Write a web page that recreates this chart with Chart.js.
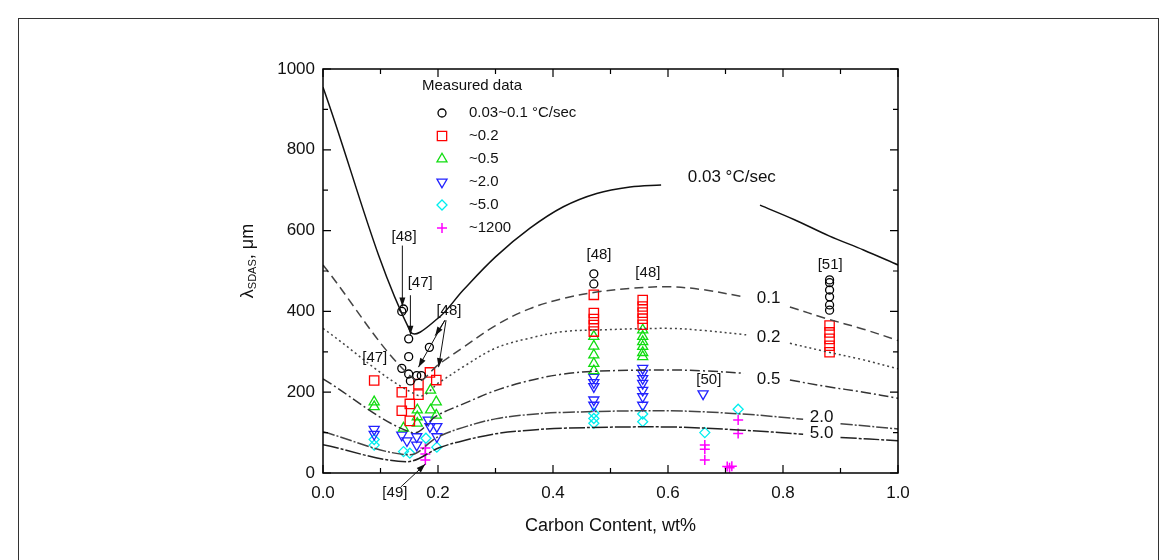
<!DOCTYPE html>
<html>
<head>
<meta charset="utf-8">
<script src="https://cdn.jsdelivr.net/npm/chart.js@4.4.0/dist/chart.umd.min.js"></script>
<style>
  html, body { margin: 0; padding: 0; background: #fff; overflow: hidden; }
  #wrap { position: relative; width: 1176px; height: 560px; overflow: hidden; }
  #frame { position: absolute; left: 18px; top: 18px; width: 1141px; height: 600px; border: 1px solid #333; box-sizing: border-box; }
  canvas { position: absolute; left: 0; top: 0; }
</style>
</head>
<body>
<div id="wrap">
  <div id="frame"></div>
  <canvas id="myChart" width="1176" height="560"></canvas>
</div>
<script>
// model curves, lambda_SDAS (um) vs carbon (wt%); null leaves the gap for the curve label
const curve003X = [0, 0.152, 0.2, 0.244, 0.3, 0.36, 0.418, 0.476, 0.534, 0.588, 0.67, 0.76, 0.82, 0.88, 0.94, 1.0];
const curve003Y = [955, 350, 383, 453, 535, 606, 659, 692, 708, 713, null, 663, 627, 587, 552, 515];
const curve01X = [0, 0.16, 0.203, 0.244, 0.3, 0.36, 0.418, 0.476, 0.534, 0.6, 0.66, 0.732, 0.77, 0.812, 0.876, 0.94, 1.0];
const curve01Y = [515, 230, 271, 311, 365, 407, 432, 448, 457, 461, 454, 436, null, 411, 382, 356, 328];
const curve02X = [0, 0.165, 0.203, 0.244, 0.3, 0.36, 0.418, 0.476, 0.6, 0.66, 0.736, 0.77, 0.812, 0.876, 0.94, 1.0];
const curve02Y = [358, 192, 225, 263, 309, 334, 350, 354, 358, 353, 342, null, 321, 300, 280, 258];
const curve05X = [0, 0.155, 0.198, 0.244, 0.3, 0.36, 0.418, 0.476, 0.6, 0.66, 0.732, 0.77, 0.812, 0.876, 0.94, 1.0];
const curve05Y = [233, 100, 142, 171, 204, 229, 245, 252, 255, 253, 247, null, 230, 214, 200, 185];
const curve20X = [0, 0.15, 0.198, 0.244, 0.3, 0.36, 0.418, 0.6, 0.73, 0.835, 0.865, 0.9, 1.0];
const curve20Y = [102, 45, 88, 113, 134, 145, 150, 154, 146, 133, null, 122, 109];
const curve50X = [0, 0.145, 0.203, 0.244, 0.3, 0.36, 0.418, 0.6, 0.73, 0.835, 0.865, 0.9, 1.0];
const curve50Y = [70, 28, 63, 80, 97, 106, 111, 114, 106, 96, null, 88, 80];

// measured data
const circX = [0.137, 0.14, 0.149, 0.149, 0.137, 0.149, 0.152, 0.163, 0.171, 0.185, 0.471, 0.471, 0.881, 0.881, 0.881, 0.881, 0.881, 0.881];
const circY = [400, 406, 332, 288, 259, 245, 228, 241, 241, 311, 493, 468, 478, 471, 453, 436, 416, 403];
const sqX = [0.089, 0.137, 0.137, 0.151, 0.151, 0.166, 0.166, 0.186, 0.197, 0.471, 0.471, 0.471, 0.471, 0.471, 0.556, 0.556, 0.556, 0.556, 0.556, 0.881, 0.881, 0.881, 0.881, 0.881];
const sqY = [229, 200, 154, 171, 129, 220, 194, 249, 230, 441, 396, 381, 366, 350, 428, 412, 397, 382, 367, 365, 348, 332, 315, 299];
const triX = [0.089, 0.089, 0.14, 0.164, 0.164, 0.164, 0.187, 0.187, 0.197, 0.197, 0.471, 0.471, 0.471, 0.471, 0.471, 0.556, 0.556, 0.556, 0.556, 0.556, 0.556];
const triY = [176, 164, 111, 156, 139, 123, 205, 156, 176, 143, 338, 314, 292, 271, 253, 354, 338, 325, 313, 298, 288];
const dtriX = [0.089, 0.089, 0.137, 0.146, 0.163, 0.163, 0.183, 0.186, 0.198, 0.198, 0.471, 0.471, 0.471, 0.471, 0.471, 0.556, 0.556, 0.556, 0.556, 0.556, 0.556, 0.556, 0.661];
const dtriY = [108, 96, 94, 80, 90, 69, 131, 115, 115, 90, 237, 224, 214, 181, 168, 259, 247, 234, 222, 205, 189, 168, 196];
const diaX = [0.089, 0.089, 0.14, 0.151, 0.179, 0.198, 0.471, 0.471, 0.471, 0.556, 0.556, 0.664, 0.722];
const diaY = [83, 69, 53, 49, 86, 64, 148, 135, 123, 146, 127, 100, 158];
const crossX = [0.178, 0.178, 0.178, 0.664, 0.664, 0.664, 0.722, 0.722, 0.703, 0.707, 0.711];
const crossY = [62, 47, 32, 69, 59, 32, 131, 98, 16, 13, 17];

const seriesLabels = ["0.03~0.1 \u00B0C/sec", "~0.2", "~0.5", "~2.0", "~5.0", "~1200"];
const curveLabels = ["0.03 \u00B0C/sec", "0.1", "0.2", "0.5", "2.0", "5.0"];
const curveLabelX = [0.711, 0.775, 0.775, 0.775, 0.867, 0.867];
const curveLabelY = [733, 432, 337, 232, 139, 97];

// reference tags [n] and their arrows, in data units
const refTags = ["[48]", "[47]", "[48]", "[47]", "[48]", "[48]", "[50]", "[51]", "[49]"];
const refTagX = [0.141, 0.169, 0.219, 0.09, 0.48, 0.565, 0.671, 0.882, 0.125];
const refTagY = [584, 470, 401, 285, 540, 495, 230, 515, -50];
const arrowFrom = [[0.138, 563], [0.152, 440], [0.212, 378], [0.212, 378], [0.214, 378], [0.135, -35]];
const arrowTo = [[0.138, 412], [0.152, 342], [0.166, 262], [0.195, 340], [0.201, 262], [0.178, 22]];

const FONT = "'Liberation Sans', Arial, sans-serif";
Chart.defaults.font.family = FONT;
Chart.defaults.color = "#111";

const pts = (xs, ys) => xs.map((x, i) => ({ x: x, y: ys[i] }));

function curve(label, xs, ys, dash, color) {
  return {
    type: "line",
    label: label,
    data: pts(xs, ys),
    borderColor: color,
    borderWidth: 1.5,
    borderDash: dash,
    pointRadius: 0,
    spanGaps: false,
    tension: 0.35,
    fill: false,
    isCurve: true,
  };
}

function marks(label, xs, ys, style, color, radius, rotation) {
  return {
    type: "scatter",
    label: label,
    data: pts(xs, ys),
    pointStyle: style,
    pointRadius: radius,
    pointRotation: rotation || 0,
    pointBorderColor: color,
    pointBackgroundColor: "rgba(0,0,0,0)",
    pointBorderWidth: style === "cross" ? 1.5 : 1.3,
    borderColor: color,
    backgroundColor: "rgba(0,0,0,0)",
  };
}

function arrow(c, x1, y1, x2, y2) {
  c.beginPath();
  c.moveTo(x1, y1);
  c.lineTo(x2, y2);
  c.stroke();
  const a = Math.atan2(y2 - y1, x2 - x1);
  const L = 9, W = 3;
  c.beginPath();
  c.moveTo(x2, y2);
  c.lineTo(x2 - L * Math.cos(a) + W * Math.sin(a), y2 - L * Math.sin(a) - W * Math.cos(a));
  c.lineTo(x2 - L * Math.cos(a) - W * Math.sin(a), y2 - L * Math.sin(a) + W * Math.cos(a));
  c.closePath();
  c.fill();
}

const isMajorX = (v) => Math.round(v * 10) % 2 === 0;
const isMajorY = (v) => Math.round(v) % 200 === 0;

const frameTicks = {
  id: "frameTicks",
  afterDatasetsDraw(chart) {
    const c = chart.ctx;
    const a = chart.chartArea;
    const { x, y } = chart.scales;
    c.save();
    c.strokeStyle = "#000";
    c.lineWidth = 1.5;
    c.strokeRect(a.left, a.top, a.right - a.left, a.bottom - a.top);
    c.lineWidth = 1.2;
    c.beginPath();
    x.ticks.forEach((t) => {
      const px = x.getPixelForValue(t.value);
      const len = isMajorX(t.value) ? 8 : 5;
      c.moveTo(px, a.bottom); c.lineTo(px, a.bottom - len);
      c.moveTo(px, a.top); c.lineTo(px, a.top + len);
    });
    y.ticks.forEach((t) => {
      const py = y.getPixelForValue(t.value);
      const len = isMajorY(t.value) ? 8 : 5;
      c.moveTo(a.left, py); c.lineTo(a.left + len, py);
      c.moveTo(a.right, py); c.lineTo(a.right - len, py);
    });
    c.stroke();
    c.restore();
  },
  afterDraw(chart) {
    const c = chart.ctx;
    const a = chart.chartArea;
    const { x, y } = chart.scales;
    c.save();
    c.fillStyle = "#111";
    c.strokeStyle = "#111";
    c.textBaseline = "middle";

    // y axis title: lambda with SDAS subscript
    c.translate(a.left - 75, a.top + 192);
    c.rotate(-Math.PI / 2);
    const f1 = "18px " + FONT, f2 = "11px " + FONT;
    c.font = f1; const w1 = c.measureText("\u03BB").width; const w3 = c.measureText(", \u03BCm").width;
    c.font = f2; const w2 = c.measureText("SDAS").width;
    let tx = -(w1 + w2 + w3) / 2;
    c.textAlign = "left";
    c.font = f1; c.fillText("\u03BB", tx, 0); tx += w1;
    c.font = f2; c.fillText("SDAS", tx, 5); tx += w2;
    c.font = f1; c.fillText(", \u03BCm", tx, 0);
    c.setTransform(1, 0, 0, 1, 0, 0);

    // curve labels
    c.textAlign = "center";
    c.font = "17px " + FONT;
    curveLabels.forEach((s, i) => {
      c.fillText(s, x.getPixelForValue(curveLabelX[i]), y.getPixelForValue(curveLabelY[i]));
    });

    // reference tags and arrows
    c.font = "15px " + FONT;
    refTags.forEach((s, i) => {
      c.fillText(s, x.getPixelForValue(refTagX[i]), y.getPixelForValue(refTagY[i]));
    });
    c.lineWidth = 1;
    arrowFrom.forEach((p, i) => {
      const q = arrowTo[i];
      arrow(c, x.getPixelForValue(p[0]), y.getPixelForValue(p[1]), x.getPixelForValue(q[0]), y.getPixelForValue(q[1]));
    });

    // legend
    const lx = a.left + 119, ly = a.top + 44;
    c.textAlign = "left";
    c.font = "15px " + FONT;
    c.fillText("Measured data", a.left + 99, a.top + 17);
    const markSets = chart.data.datasets.filter((d) => !d.isCurve);
    markSets.forEach((d, i) => {
      const yy = ly + i * 23;
      c.fillStyle = "rgba(0,0,0,0)";
      c.strokeStyle = d.pointBorderColor;
      c.lineWidth = d.pointBorderWidth;
      Chart.helpers.drawPoint(c, {
        pointStyle: d.pointStyle,
        rotation: d.pointRotation,
        radius: d.pointRadius,
        borderWidth: d.pointBorderWidth,
      }, lx, yy);
      c.fillStyle = "#111";
      c.fillText(d.label, lx + 27, yy);
    });
    c.restore();
  },
};

const ctx = document.getElementById("myChart").getContext("2d");
const myChart = new Chart(ctx, {
  type: "scatter",
  data: {
    datasets: [
      curve("0.03", curve003X, curve003Y, [], "#111"),
      curve("0.1", curve01X, curve01Y, [9, 5], "#444"),
      curve("0.2", curve02X, curve02Y, [2, 3], "#444"),
      curve("0.5", curve05X, curve05Y, [10, 3, 2, 3], "#333"),
      curve("2.0", curve20X, curve20Y, [12, 2, 2, 2], "#444"),
      curve("5.0", curve50X, curve50Y, [16, 2, 3, 2], "#222"),
      marks(seriesLabels[0], circX, circY, "circle", "#000", 4),
      marks(seriesLabels[1], sqX, sqY, "rect", "#ff0000", 6.6),
      marks(seriesLabels[2], triX, triY, "triangle", "#11dd11", 5.8),
      marks(seriesLabels[3], dtriX, dtriY, "triangle", "#2222ff", 5.8, 180),
      marks(seriesLabels[4], diaX, diaY, "rectRot", "#00eeee", 5),
      marks(seriesLabels[5], crossX, crossY, "cross", "#ff00ff", 5),
    ],
  },
  options: {
    responsive: false,
    animation: false,
    devicePixelRatio: 1,
    layout: { padding: { left: 263, right: 278, top: 69, bottom: 19 } },
    plugins: { legend: { display: false }, tooltip: { enabled: false } },
    scales: {
      x: {
        type: "linear",
        min: 0,
        max: 1,
        grid: { display: false, drawTicks: false },
        border: { display: false },
        ticks: {
          stepSize: 0.1,
          autoSkip: false,
          maxRotation: 0,
          padding: 10,
          font: { size: 17 },
          callback: (v) => (isMajorX(v) ? Number(v).toFixed(1) : ""),
        },
        title: { display: true, text: "Carbon Content, wt%", font: { size: 18 }, padding: { top: 4, bottom: 4 } },
        afterFit: (s) => { s.height = 68; },
      },
      y: {
        type: "linear",
        min: 0,
        max: 1000,
        grid: { display: false, drawTicks: false },
        border: { display: false },
        ticks: {
          stepSize: 100,
          autoSkip: false,
          padding: 8,
          font: { size: 17 },
          callback: (v) => (isMajorY(v) ? v : ""),
        },
        afterFit: (s) => { s.width = 60; },
      },
    },
  },
  plugins: [frameTicks],
});
</script>
</body>
</html>
